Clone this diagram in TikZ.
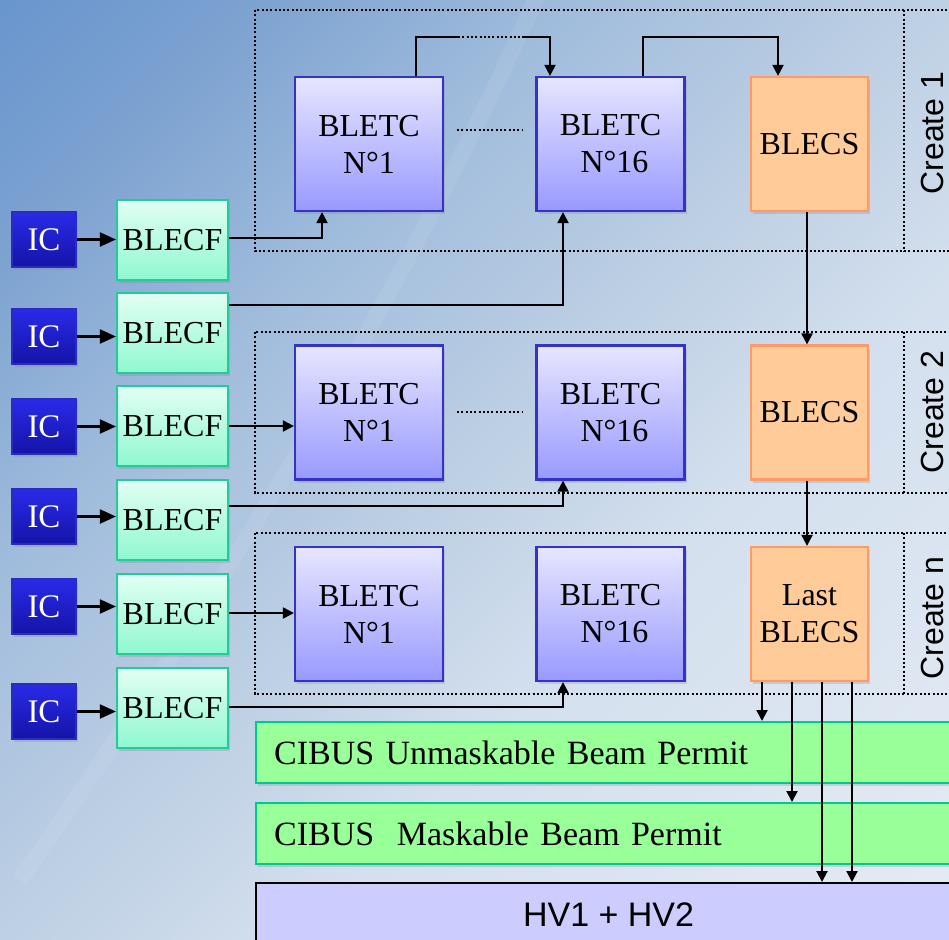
\documentclass[tikz,border=0pt]{standalone}
\usepackage{fontspec}
\setmainfont{Liberation Serif}
\setsansfont{Liberation Sans}
\usetikzlibrary{arrows.meta,shadows}
\definecolor{bgA}{HTML}{E4EBF4}
\definecolor{bgB}{HTML}{D4E0EE}
\definecolor{bgC}{HTML}{BED0E4}
\definecolor{bgD}{HTML}{A0BCDC}
\definecolor{bgE}{HTML}{7CA2D0}
\definecolor{bgF}{HTML}{6A96CE}
\pgfdeclareverticalshading{bgsh}{100bp}{color(0bp)=(bgA); color(15bp)=(bgA); color(39bp)=(bgB); color(50bp)=(bgC); color(64bp)=(bgD); color(76bp)=(bgE); color(85bp)=(bgF); color(100bp)=(bgF)}
\definecolor{icT}{HTML}{2A2AE8}
\definecolor{icB}{HTML}{1414A8}
\definecolor{icD}{HTML}{2B2BC0}
\definecolor{cfT}{HTML}{E2FFF3}
\definecolor{cfB}{HTML}{8FF8D0}
\definecolor{cfD}{HTML}{22CC99}
\definecolor{tcT}{HTML}{E6E6FF}
\definecolor{tcB}{HTML}{9999FF}
\definecolor{tcD}{HTML}{3333CC}
\definecolor{csF}{HTML}{FFCC99}
\definecolor{csD}{HTML}{FF9966}
\definecolor{cbF}{HTML}{99FF99}
\definecolor{cbD}{HTML}{00C890}
\definecolor{hvF}{HTML}{CCCCFF}
\tikzset{
  box/.style={inner sep=0pt, align=center, line width=2.2pt,
    font=\fontsize{32}{37}\selectfont,
    drop shadow={shadow xshift=2pt, shadow yshift=-3pt, opacity=0.25}},
  icbox/.style={box, minimum width=64pt, minimum height=55pt, draw=icD,
    top color=icT, bottom color=icB, text=white, font=\fontsize{33}{37}\selectfont},
  cfbox/.style={box, minimum width=111pt, minimum height=80pt, draw=cfD,
    top color=cfT, bottom color=cfB},
  tcbox/.style={box, minimum width=148pt, minimum height=134pt, draw=tcD,
    top color=tcT, bottom color=tcB},
  csbox/.style={box, minimum width=117pt, minimum height=134pt, draw=csD, fill=csF},
  cibox/.style={box, anchor=north west, minimum height=61pt, text width=669pt,
    inner xsep=18pt, align=left, draw=cbD, fill=cbF, font=\fontsize{34}{38}\selectfont},
  hvbox/.style={box, anchor=north west, minimum width=705pt, minimum height=63pt,
    draw=black, fill=hvF, font=\sffamily\fontsize{34}{38}\selectfont},
  crate/.style={draw=black, line width=2pt, dash pattern=on 2pt off 2.3pt},
  dotline/.style={draw=black, line width=2pt, dash pattern=on 2pt off 2.3pt},
  crlab/.style={rotate=90, anchor=base, inner sep=0pt, font=\sffamily\fontsize{32}{32}\selectfont},
  wire/.style={draw=black, line width=2.1pt},
  conn/.style={wire, -{Triangle[length=11pt,width=11pt]}},
  bigconn/.style={wire, -{Triangle[length=16pt,width=14pt]}}
}
\begin{document}
\begin{tikzpicture}[x=1pt,y=-1pt]
\useasboundingbox (0,0) rectangle (949,939);
\clip (0,0) rectangle (949,939);
\shade[shading=bgsh, shading angle=45] (0,0) rectangle (949,939);
\draw[white, opacity=0.07, line width=16pt] (20,880) .. controls (230,580) and (400,300) .. (540,-10);

% crates
\draw[crate] (255,10) rectangle (960,251);
\draw[crate] (904,10) -- (904,251);
\draw[crate] (255,332) rectangle (960,493);
\draw[crate] (904,332) -- (904,493);
\draw[crate] (255,533) rectangle (960,694);
\draw[crate] (904,533) -- (904,694);
\node[crlab] (l1) at (943,133) {Create 1};
\node[crlab] (l2) at (943,412) {Create 2};
\node[crlab] (l3) at (943,618) {Create n};

% IC
\node[icbox] (ic1) at (44,239.5) {IC};
\node[icbox] (ic2) at (44,336.5) {IC};
\node[icbox] (ic3) at (44,426.5) {IC};
\node[icbox] (ic4) at (44,516.5) {IC};
\node[icbox] (ic5) at (44,606.5) {IC};
\node[icbox] (ic6) at (44,711.5) {IC};

% BLECF
\node[cfbox] (cf1) at (172.5,240) {BLECF};
\node[cfbox] (cf2) at (172.5,333) {BLECF};
\node[cfbox] (cf3) at (172.5,426) {BLECF};
\node[cfbox] (cf4) at (172.5,520) {BLECF};
\node[cfbox] (cf5) at (172.5,614) {BLECF};
\node[cfbox] (cf6) at (172.5,708) {BLECF};

% BLETC / BLECS
\node[tcbox] (t1a) at (369,144) {BLETC\\N°1};
\node[tcbox] (t16a) at (610.5,144) {BLETC\\\ N°16};
\node[csbox] (sa) at (809.5,144) {BLECS};
\node[tcbox] (t1b) at (369,412.5) {BLETC\\N°1};
\node[tcbox] (t16b) at (610.5,412.5) {BLETC\\\ N°16};
\node[csbox] (sb) at (809.5,412.5) {BLECS};
\node[tcbox] (t1c) at (369,614) {BLETC\\N°1};
\node[tcbox] (t16c) at (610.5,614) {BLETC\\\ N°16};
\node[csbox] (sc) at (809.5,614) {Last\\BLECS};

\draw[dotline] (457,130) -- (522,130);
\draw[dotline] (457,412) -- (522,412);

% bottom bars
\node[cibox] (cu) at (255,721) {CIBUS Unmaskable Beam Permit};
\node[cibox] (cm) at (255,802) {CIBUS\ \ Maskable Beam Permit};
\node[hvbox] (hv) at (255,882) {HV1 + HV2};

% IC -> BLECF
\foreach \i in {1,...,6}{
  \draw[bigconn] (ic\i.east) -- (ic\i.east -| cf\i.west);
}

% top chain crate 1
\coordinate (u1) at (416,37);
\coordinate (u2) at (458,37);
\coordinate (u3) at (522,37);
\coordinate (u4) at (550,37);
\draw[wire] (t1a.north -| u1) -- (u1) -- (u2);
\draw[dotline] (u2) -- (u3);
\draw[conn] (u3) -- (u4) -- (u4 |- t16a.north);
\coordinate (v1) at (643,37);
\coordinate (v2) at (778,37);
\draw[conn] (t16a.north -| v1) -- (v1) -- (v2) -- (v2 |- sa.north);

% BLECS chain
\coordinate (w) at (807,0);
\draw[conn] (sa.south -| w) -- (sb.north -| w);
\draw[conn] (sb.south -| w) -- (sc.north -| w);

% BLECF -> BLETC
\coordinate (k1) at (322,238);
\draw[conn] (cf1.east |- k1) -- (k1) -- (k1 |- t1a.south);
\coordinate (k2) at (563,305);
\draw[conn] (cf2.east |- k2) -- (k2) -- (k2 |- t16a.south);
\coordinate (k3) at (0,426);
\draw[conn] (cf3.east |- k3) -- (t1b.west |- k3);
\coordinate (k4) at (563,506);
\draw[conn] (cf4.east |- k4) -- (k4) -- (k4 |- t16b.south);
\coordinate (k5) at (0,613);
\draw[conn] (cf5.east |- k5) -- (t1c.west |- k5);
\coordinate (k6) at (563,707);
\draw[conn] (cf6.east |- k6) -- (k6) -- (k6 |- t16c.south);

% Last BLECS outputs
\coordinate (o1) at (762,0);
\coordinate (o2) at (792,0);
\coordinate (o3) at (822,0);
\coordinate (o4) at (852,0);
\draw[conn] (sc.south -| o1) -- (cu.north -| o1);
\draw[conn] (sc.south -| o2) -- (cm.north -| o2);
\draw[conn] (sc.south -| o3) -- (hv.north -| o3);
\draw[conn] (sc.south -| o4) -- (hv.north -| o4);
\end{tikzpicture}
\end{document}
